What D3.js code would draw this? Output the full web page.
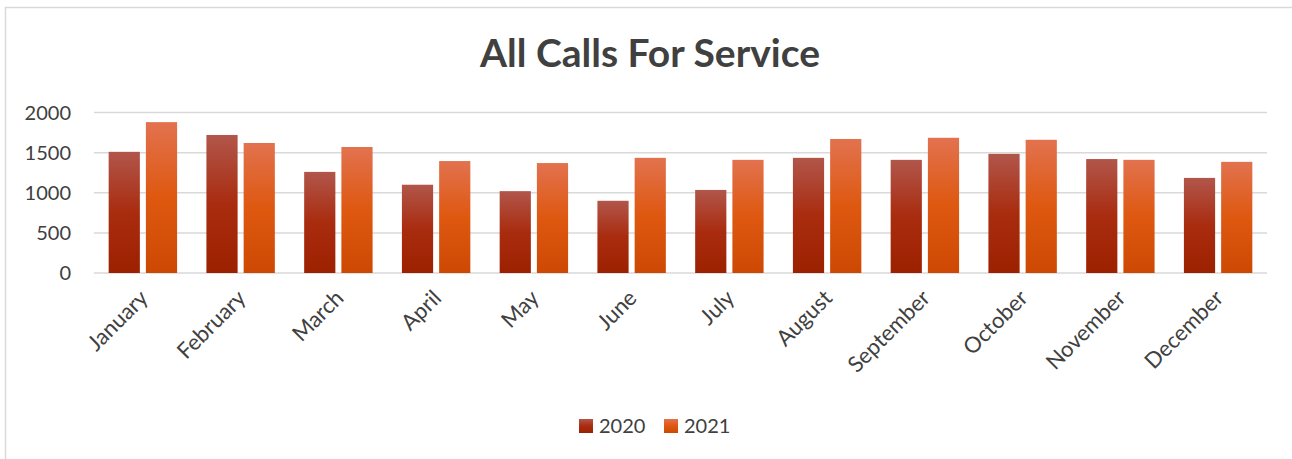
<!DOCTYPE html>
<html lang="en">
  <head>
    <meta charset="UTF-8" />
    <title>All Calls For Service</title>
    <script src="https://cdn.jsdelivr.net/npm/d3@7"></script>
  </head>
  <body>
    <svg></svg>
    <style>
      body {
        margin: 0;
        background: #fff;
      }
      svg {
        display: block;
        width: 1292px;
        height: 459px;
        font-family: Lato, "Open Sans", sans-serif;
      }
    </style>
    <script>
      const width = 1292;
      const height = 459;
      const months = ["January", "February", "March", "April", "May", "June",
        "July", "August", "September", "October", "November", "December"];
      const years = ["2020", "2021"];
      const calls2020 = [1510, 1720, 1260, 1100, 1020, 900, 1035, 1435, 1410, 1485, 1420, 1185];
      const calls2021 = [1880, 1620, 1570, 1395, 1370, 1435, 1410, 1670, 1685, 1660, 1410, 1385];
      const yTicks = [0, 500, 1000, 1500, 2000];

      const svg = d3.select("svg").attr("viewBox", [0, 0, width, height]);

      // gradient fills like the excel bars
      const defs = svg.append("defs");
      const grads = [
        { id: "g2020", stops: ["#b1564b", "#a92c0f", "#9c2100"] },
        { id: "g2021", stops: ["#e2724f", "#de5810", "#cd4903"] }
      ];
      grads.forEach((g) => {
        const lg = defs.append("linearGradient").attr("id", g.id)
          .attr("x1", 0).attr("y1", 0).attr("x2", 0).attr("y2", 1);
        g.stops.forEach((c, i) => lg.append("stop").attr("offset", i * 50 + "%").attr("stop-color", c));
      });

      // chart frame (only left & top visible in the shot)
      svg.append("rect")
        .attr("x", 5.5).attr("y", 7.5)
        .attr("width", 1300).attr("height", 470)
        .attr("fill", "none").attr("stroke", "#d9d9d9").attr("stroke-width", 1.5);

      const x0 = d3.scaleBand().domain(months).range([94, 1267])
        .paddingInner(0.3).paddingOuter(0.15);
      const x1 = d3.scaleBand().domain(years).range([0, x0.bandwidth()]).paddingInner(0.162);
      const y = d3.scaleLinear().domain([0, 2000]).range([273, 112.5]);

      // gridlines
      svg.append("g").selectAll("line").data(yTicks).join("line")
        .attr("x1", 94).attr("x2", 1267)
        .attr("y1", (d) => y(d)).attr("y2", (d) => y(d))
        .attr("stroke", "#d9d9d9").attr("stroke-width", 1.5);

      // y labels
      svg.append("g").selectAll("text").data(yTicks).join("text")
        .attr("x", 71).attr("y", (d) => y(d))
        .attr("dy", "0.36em")
        .attr("text-anchor", "end")
        .attr("font-size", 20).attr("fill", "#404040")
        .text((d) => d);

      // bars
      const rows = months.map((m, i) => ({ month: m, values: [calls2020[i], calls2021[i]] }));
      svg.append("g").selectAll("g").data(rows).join("g")
        .attr("transform", (d) => `translate(${x0(d.month)},0)`)
        .selectAll("rect")
        .data((d) => d.values.map((v, j) => ({ year: years[j], v })))
        .join("rect")
        .attr("x", (d) => x1(d.year))
        .attr("width", x1.bandwidth())
        .attr("y", (d) => y(d.v))
        .attr("height", (d) => y(0) - y(d.v))
        .attr("fill", (d) => `url(#g${d.year})`);

      // month labels, rotated
      svg.append("g").selectAll("text").data(months).join("text")
        .attr("transform", (d) => `translate(${x0(d) + x0.bandwidth() / 2 + 1},${294}) rotate(-45)`)
        .attr("text-anchor", "end")
        .attr("dy", "0.35em")
        .attr("font-size", 22).attr("fill", "#404040")
        .text((d) => d);

      // title
      svg.append("text")
        .attr("x", 650).attr("y", 67)
        .attr("text-anchor", "middle")
        .attr("font-size", 39).attr("font-weight", "bold").attr("fill", "#404040")
        .text("All Calls For Service");

      // legend
      const legend = svg.append("g").attr("transform", "translate(579,419)");
      const items = legend.selectAll("g").data(years).join("g")
        .attr("transform", (d, i) => `translate(${i * 85},0)`);
      items.append("rect").attr("width", 14).attr("height", 14)
        .attr("fill", (d) => `url(#g${d})`);
      items.append("text").attr("x", 20).attr("y", 7).attr("dy", "0.36em")
        .attr("font-size", 20).attr("fill", "#404040")
        .text((d) => d);
    </script>
  </body>
</html>
